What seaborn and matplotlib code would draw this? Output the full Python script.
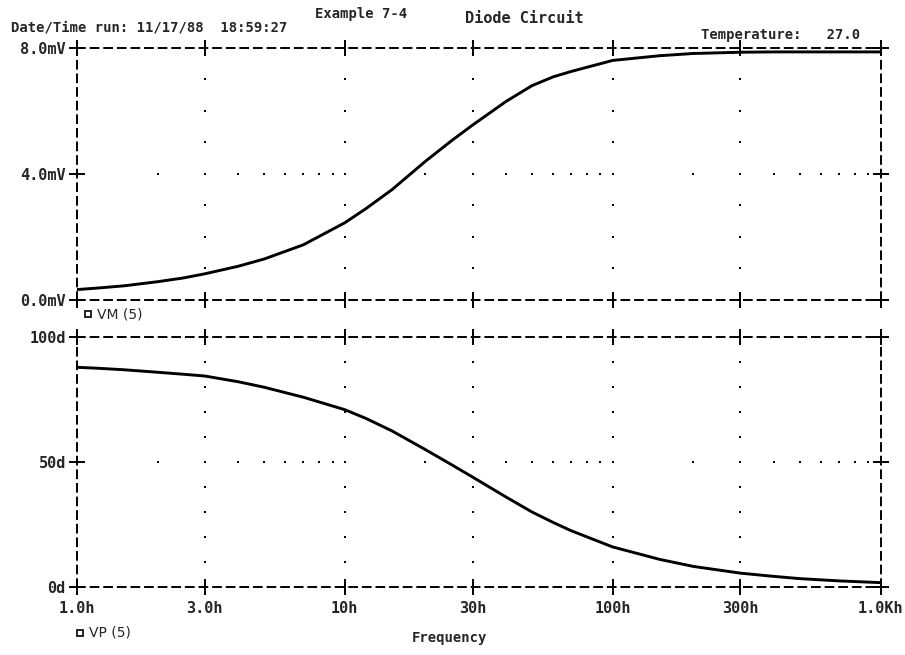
import matplotlib
matplotlib.use("Agg")
import matplotlib.pyplot as plt
from matplotlib.lines import Line2D
import seaborn as sns
import pandas as pd

# Sweep frequencies (Hz) and the two probed traces
freq = [1, 1.2, 1.5, 2, 2.5, 3, 4, 5, 7, 10, 12, 15, 20, 25, 30, 40, 50, 60,
        70, 100, 150, 200, 300, 400, 500, 700, 1000]
vm5_mv = [0.33, 0.38, 0.45, 0.58, 0.70, 0.83, 1.07, 1.30, 1.75, 2.45, 2.90,
          3.50, 4.40, 5.05, 5.55, 6.30, 6.80, 7.08, 7.25, 7.60, 7.75, 7.82,
          7.86, 7.87, 7.87, 7.87, 7.87]
vp5_deg = [88.0, 87.6, 87.0, 86.0, 85.2, 84.5, 82.2, 80.0, 76.0, 71.0, 67.5,
           62.5, 55.0, 49.0, 44.0, 36.0, 30.0, 25.8, 22.5, 16.0, 11.0, 8.2,
           5.5, 4.2, 3.3, 2.4, 1.7]

x_ticks = [1, 3, 10, 30, 100, 300, 1000]
x_ticklabels = ["1.0h", "3.0h", "10h", "30h", "100h", "300h", "1.0Kh"]
# dotted grid positions: x minor steps (2..9 per decade), y minor steps
x_minor = [m * d for d in (1, 10, 100) for m in range(2, 10)]
vm_ticks = [0, 4, 8]
vm_ticklabels = ["0.0mV", "4.0mV", "8.0mV"]
vm_minor = [1, 2, 3, 4, 5, 6, 7]
vp_ticks = [0, 50, 100]
vp_ticklabels = ["0d", "50d", "100d"]
vp_minor = [10, 20, 30, 40, 50, 60, 70, 80, 90]

df = pd.DataFrame({"freq": freq, "VM(5)": vm5_mv, "VP(5)": vp5_deg})

sns.set_style("white")
FONT = "DejaVu Sans Mono"
plt.rcParams["font.family"] = [FONT]
plt.rcParams["font.weight"] = "bold"
plt.rcParams["font.size"] = 10

fig = plt.figure(figsize=(9.05, 6.55), dpi=100)
ax_m = fig.add_axes([0.085, 0.542, 0.888, 0.385])
ax_p = fig.add_axes([0.085, 0.104, 0.888, 0.381])

sns.lineplot(data=df, x="freq", y="VM(5)", ax=ax_m, color="black", lw=2.1)
sns.lineplot(data=df, x="freq", y="VP(5)", ax=ax_p, color="black", lw=2.1)


def style_panel(ax, yticks, ylabels, ylim, yminor, show_x):
    ax.set_xscale("log")
    ax.set_xlim(1, 1000)
    ax.set_ylim(*ylim)
    ax.set_xticks(x_ticks)
    ax.minorticks_off()
    ax.set_xticklabels(x_ticklabels if show_x else [])
    ax.set_yticks(yticks)
    ax.set_yticklabels(ylabels)
    ax.set_xlabel("")
    ax.set_ylabel("")
    for s in ax.spines.values():
        s.set_visible(True)
        s.set_color("black")
        s.set_linewidth(1.4)
        s.set_linestyle((0, (4, 3)))
    ax.tick_params(axis="both", which="major", direction="inout", length=12,
                   width=1.4, color="black", top=True, bottom=True,
                   left=True, right=True, labelsize=11, pad=2)
    for lab in ax.get_xticklabels() + ax.get_yticklabels():
        lab.set_fontweight("bold")
    # dotted grid: dots on the inner major verticals and the middle horizontal
    gx = [xv for xv in x_ticks[1:-1] for _ in yminor]
    gy = [yv for _ in x_ticks[1:-1] for yv in yminor]
    gx += x_minor
    gy += [yticks[1]] * len(x_minor)
    ax.scatter(gx, gy, s=3.5, marker="s", color="black", linewidths=0,
               zorder=1)


style_panel(ax_m, vm_ticks, vm_ticklabels, (0, 8), vm_minor, False)
style_panel(ax_p, vp_ticks, vp_ticklabels, (0, 100), vp_minor, True)
ax_p.tick_params(axis="x", pad=4)

# header text
fig.text(0.012, 0.952, "Date/Time run: 11/17/88  18:59:27", fontsize=10,
         fontweight="bold", ha="left", va="baseline")
fig.text(0.348, 0.972, "Example 7-4", fontsize=10, fontweight="bold",
         ha="left", va="baseline")
fig.text(0.514, 0.965, "Diode Circuit", fontsize=11, fontweight="bold",
         ha="left", va="baseline")
fig.text(0.775, 0.940, "Temperature:   27.0", fontsize=10, fontweight="bold",
         ha="left", va="baseline")

# trace legends
def trace_key(x, y, name):
    fig.add_artist(Line2D([x], [y], marker="s", markersize=4.5,
                          markerfacecolor="white", markeredgecolor="black",
                          markeredgewidth=1.2, transform=fig.transFigure))
    fig.text(x + 0.010, y, name, fontsize=10, ha="left", va="center",
             fontweight="normal", family="DejaVu Sans")

trace_key(0.097, 0.520, "VM (5)")
trace_key(0.088, 0.034, "VP (5)")

fig.text(0.497, 0.020, "Frequency", fontsize=10, fontweight="bold",
         ha="center", va="baseline")

fig.savefig("out.png", dpi=100)
